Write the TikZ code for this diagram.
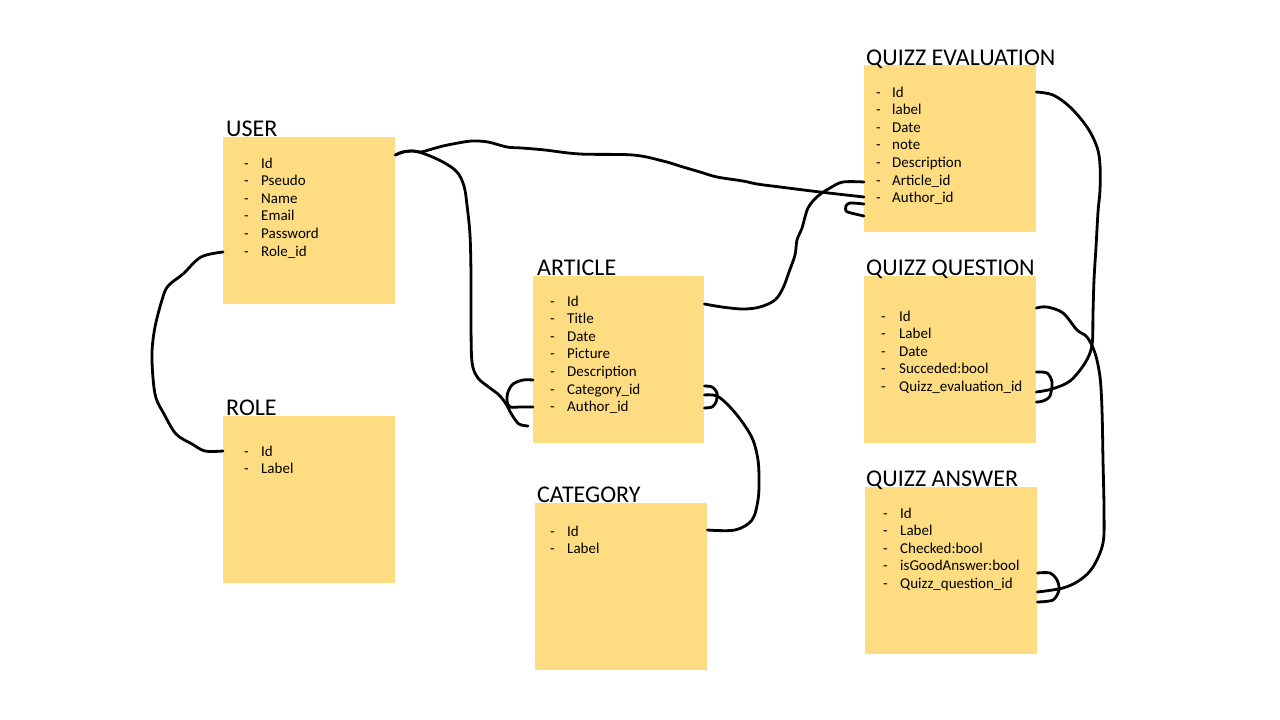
\documentclass[tikz,border=0pt]{standalone}
\usepackage{fontspec}
\setmainfont{Carlito}
\usetikzlibrary{calc}
\definecolor{note}{HTML}{FEDD82}
\newcommand\entlist[5]{%
  \foreach \t [count=\i] in {#5}
    \node[item] (#1-\i) at (#2,{#3+17.6*(\i-1)}) {\makebox[#4pt][l]{-}\t};}
\begin{document}
\begin{tikzpicture}[x=1pt,y=-1pt,
  box/.style={fill=note, draw=none, anchor=north west, inner sep=0, minimum width=172pt, minimum height=167pt},
  ttl/.style={anchor=base west, inner sep=0, font=\fontsize{24}{27}\selectfont},
  item/.style={anchor=west, inner sep=0, text height=12pt, text depth=2pt, font=\fontsize{15}{17}\selectfont},
  wire/.style={line width=2.8pt, line cap=round, line join=round, black}]
\useasboundingbox (0,0) rectangle (1280,720);

% boxes
\node[box] (user) at (223,137) {};
\node[box] (role) at (223,416) {};
\node[box, minimum width=171pt] (article) at (533,276) {};
\node[box] (category) at (535,503) {};
\node[box] (qe) at (864,65) {};
\node[box] (qq) at (864,276) {};
\node[box] (qa) at (865,487) {};

% titles
\node[ttl] (tuser) at (226,136) {USER};
\node[ttl] (trole) at (226,415) {ROLE};
\node[ttl] (tarticle) at (537,275) {ARTICLE};
\node[ttl] (tcategory) at (537,502) {CATEGORY};
\node[ttl] (tqe) at (866,65) {QUIZZ EVALUATION};
\node[ttl] (tqq) at (866,275) {QUIZZ QUESTION};
\node[ttl] (tqa) at (866,486) {QUIZZ ANSWER};

% fields
\entlist{user}{244}{163}{17}{Id,Pseudo,Name,Email,Password,Role\_id}
\entlist{role}{244}{451}{17}{Id,Label}
\entlist{article}{550}{301}{17}{Id,Title,Date,Picture,Description,Category\_id,Author\_id}
\entlist{category}{550}{531}{17}{Id,Label}
\entlist{qe}{876}{92}{16}{Id,label,Date,note,Description,Article\_id,Author\_id}
\entlist{qq}{881}{316}{18}{Id,Label,Date,Succeded:bool,Quizz\_evaluation\_id}
\entlist{qa}{883}{513}{17}{Id,Label,Checked:bool,isGoodAnswer:bool,Quizz\_question\_id}

% connector end points
\coordinate (c1a) at ($(user.north west)+(0,115)$);
\coordinate (c1b) at ($(role.north west)+(0,35)$);
\coordinate (u0) at ($(user.north east)+(0,18)$);
\coordinate (c2b) at (528,426);
\coordinate (alh1) at ($(article.north west)+(0,104)$);
\coordinate (alh2) at ($(article.north west)+(0,131)$);
\coordinate (c3b) at ($(qe.north west)+(0,132)$);
\coordinate (qh1) at ($(qe.north west)+(0,139)$);
\coordinate (qh2) at ($(qe.north west)+(0,151)$);
\coordinate (a1) at ($(article.north east)+(0,28)$);
\coordinate (q6) at ($(qe.north west)+(0,117)$);
\coordinate (a2) at ($(article.north east)+(0,119)$);
\coordinate (cat1) at ($(category.north east)+(0,27)$);
\coordinate (ah1) at ($(article.north east)+(0,110)$);
\coordinate (ah2) at ($(article.north east)+(0,132)$);
\coordinate (qe1) at ($(qe.north east)+(0,27)$);
\coordinate (qq5) at ($(qq.north east)+(0,116)$);
\coordinate (qqh1) at ($(qq.north east)+(0,96)$);
\coordinate (qqh2) at ($(qq.north east)+(0,126)$);
\coordinate (qq1) at ($(qq.north east)+(0,32)$);
\coordinate (qa5) at ($(qa.north east)+(0,105)$);
\coordinate (qah1) at ($(qa.north east)+(0,86)$);
\coordinate (qah2) at ($(qa.north east)+(0,115)$);

% USER - ROLE
\draw[wire] plot[smooth,tension=0.55] coordinates {(c1a) (201,257) (183,274) (168,286) (162,300) (155,327) (152,352) (153,378) (156,398) (164,414) (176,434) (192,444) (205,451) (c1b)};
% USER - ARTICLE
\draw[wire] plot[smooth,tension=0.55] coordinates {(u0) (403,152) (413,151) (425,154) (443,162) (457,172) (464,186) (467,205) (470,235) (471,275) (471,320) (472,362) (478,378) (490,388) (499,395) (506,404) (512,415) (519,424) (c2b)};
\draw[wire] plot[smooth,tension=0.5] coordinates {(alh1) (523,380) (513,384) (508,392) (507,401) (510,407) (520,407) (alh2)};
% USER - QUIZZ EVALUATION
\draw[wire] plot[smooth,tension=0.55] coordinates {(u0) (403,152) (413,151) (421,152) (432,149) (443,146) (458,143) (472,141) (488,142) (507,147) (522,148) (545,150) (580,154) (633,155) (663,161) (683,167) (700,172) (717,177) (743,181) (757,184) (780,187) (820,192) (c3b)};
\draw[wire] plot[smooth,tension=0.5] coordinates {(qh1) (850,203) (846,206) (846,211) (851,213) (qh2)};
% ARTICLE - QUIZZ EVALUATION
\draw[wire] plot[smooth,tension=0.55] coordinates {(a1) (722,307) (743,309) (760,307) (775,300) (783,288) (789,272) (795,255) (797,240) (802,228) (808,208) (818,196) (830,188) (843,182) (q6)};
% ARTICLE - CATEGORY
\draw[wire] plot[smooth,tension=0.55] coordinates {(a2) (717,396) (730,407) (743,423) (753,440) (758,460) (759,480) (758,500) (752,520) (735,530) (cat1)};
\draw[wire] plot[smooth,tension=0.5] coordinates {(ah1) (712,387) (717,393) (716,402) (712,407) (ah2)};
% QUIZZ EVALUATION - QUIZZ QUESTION
\draw[wire] plot[smooth,tension=0.55] coordinates {(qe1) (1053,95) (1070,107) (1087,127) (1097,147) (1100,165) (1100,190) (1098,212) (1096,247) (1094,280) (1093,313) (1092,345) (1085,363) (1070,381) (1052,389) (qq5)};
\draw[wire] plot[smooth,tension=0.5] coordinates {(qqh1) (1047,373) (1052,382) (1050,396) (1043,401) (qqh2)};
% QUIZZ QUESTION - QUIZZ ANSWER
\draw[wire] plot[smooth,tension=0.55] coordinates {(qq1) (1047,307) (1063,313) (1077,330) (1087,337) (1095,353) (1100,377) (1102,410) (1103,460) (1104,510) (1103,543) (1093,567) (1080,580) (1063,588) (qa5)};
\draw[wire] plot[smooth,tension=0.5] coordinates {(qah1) (1050,573) (1057,580) (1059,590) (1053,600) (qah2)};
\end{tikzpicture}
\end{document}
